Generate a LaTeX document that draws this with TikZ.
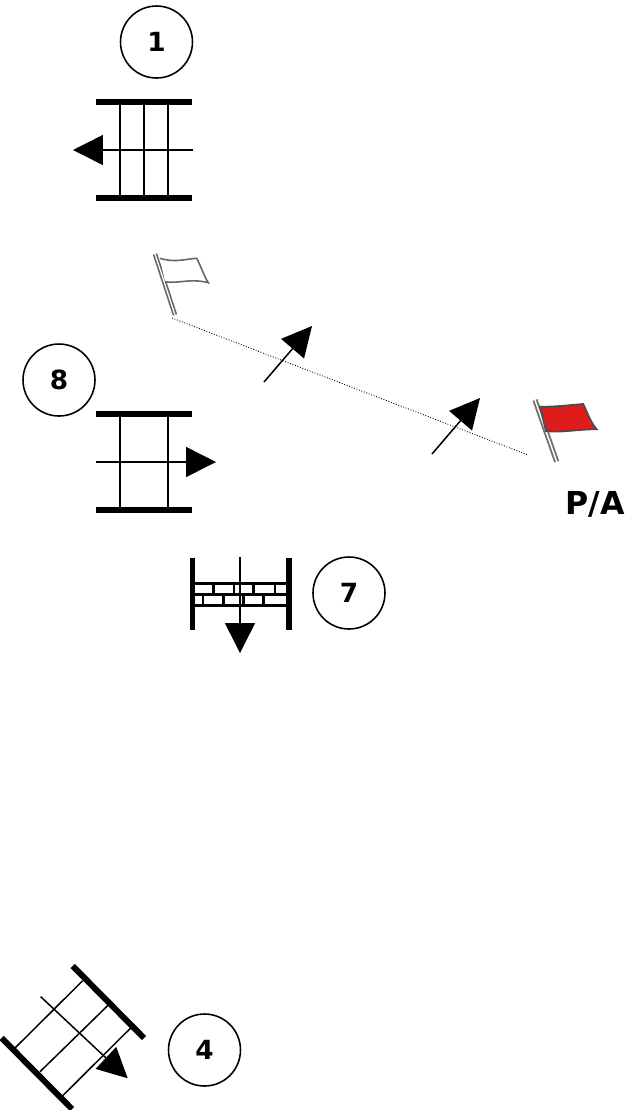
\documentclass[tikz,border=0pt]{standalone}
\usepackage{fontspec}
\setmainfont{DejaVu Sans}
\usetikzlibrary{arrows.meta}

\begin{document}
\begin{tikzpicture}[x=0.02cm, y=-0.02cm,
    every badge/.style={circle, draw, line width=0.9pt, minimum size=1.44cm, inner sep=0pt, font=\fontsize{15}{17}\selectfont\bfseries},
    bar/.style={line width=3.4pt},
    rung/.style={line width=0.85pt},
    brick/.style={line width=1.7pt},
    move/.style={line width=0.85pt, -{Triangle[length=17pt, width=17pt]}}]

    \useasboundingbox (0,0) rectangle (644,1110);

    % Number badges
    \foreach \n/\x/\y in {1/156.5/42, 8/59/380, 7/349/593, 4/204.5/1050}
        \node[every badge] (B-\n) at (\x, \y) {\n};

    % Grid 1 - arrow to the left
    \draw[bar] (96,102) -- (192,102);
    \draw[bar] (96,198) -- (192,198);
    \foreach \x in {120, 144, 168}
        \draw[rung] (\x,102) -- (\x,198);
    \coordinate (G1-from) at (193,150);
    \coordinate (G1-to) at (73,150);
    \draw[move] (G1-from) -- (G1-to);

    % Grid 8 - arrow to the right
    \draw[bar] (96,414) -- (192,414);
    \draw[bar] (96,510) -- (192,510);
    \foreach \x in {120, 168}
        \draw[rung] (\x,414) -- (\x,510);
    \coordinate (G8-from) at (96,462);
    \coordinate (G8-to) at (216,462);
    \draw[move] (G8-from) -- (G8-to);

    % Wall 7 - arrow down
    \draw[bar] (192.5,558) -- (192.5,630);
    \draw[bar] (289,558) -- (289,630);
    \foreach \y in {583.5, 594.5, 605.5}
        \draw[brick] (192,\y) -- (289,\y);
    \foreach \x in {213.5, 234, 253.5, 275}
        \draw[brick] (\x,583.5) -- (\x,594.5);
    \foreach \x in {203, 223.5, 243.5, 263.5}
        \draw[brick] (\x,594.5) -- (\x,605.5);
    \coordinate (W7-from) at (240,557);
    \coordinate (W7-to) at (240,653);
    \draw[move] (W7-from) -- (W7-to);

    % Grid 4 - turned, arrow down right
    \draw[bar] (72.7,966) -- (144,1038);
    \draw[bar] (1.7,1038) -- (72,1109);
    \draw[rung] (82.7,980.7) -- (15,1048);
    \draw[rung] (108.3,1005) -- (40,1071.7);
    \draw[rung] (130.7,1028) -- (62.7,1095.7);
    \coordinate (G4-from) at (40.7,996.7);
    \coordinate (G4-to) at (127.7,1078.3);
    \draw[move] (G4-from) -- (G4-to);

    % White flag
    \draw[line width=2.6pt, black!60] (155,254) -- (175,315);
    \draw[line width=0.7pt, white] (155,254) -- (175,315);
    \draw[line width=0.9pt, black!60, fill=white] (160,258.3) .. controls (175,263) and (185,259) .. (196.7,258.3)
        .. controls (200,264) and (204,276) .. (208.3,282.7) .. controls (190,278) and (178,284) .. (165,281.7);

    % Red flag
    \draw[line width=3pt, black!55] (535,400) -- (556.7,461.7);
    \draw[line width=0.8pt, white] (535,400) -- (556.7,461.7);
    \draw[line width=1pt, black!70, fill={rgb,255:red,222;green,28;blue,28}] (540,406.7) .. controls (555,407) and (570,405) .. (583.3,404)
        .. controls (587,412) and (591,423) .. (596.7,429.3) .. controls (580,429) and (560,433) .. (546,431) -- cycle;

    % Dotted line between the flags
    \coordinate (F-white) at (172,318);
    \coordinate (F-red) at (528,455);
    \draw[line width=0.5pt, densely dotted] (F-white) -- (F-red);

    % Arrows across the line
    \coordinate (A1-from) at (264,382);
    \coordinate (A1-to) at (312,326);
    \coordinate (A2-from) at (432,454);
    \coordinate (A2-to) at (480,398);
    \draw[move] (A1-from) -- (A1-to);
    \draw[move] (A2-from) -- (A2-to);

    % Label of the red flag
    \node[font=\fontsize{18}{20}\selectfont\bfseries] (PA) at (595,504) {P/A};

\end{tikzpicture}
\end{document}
